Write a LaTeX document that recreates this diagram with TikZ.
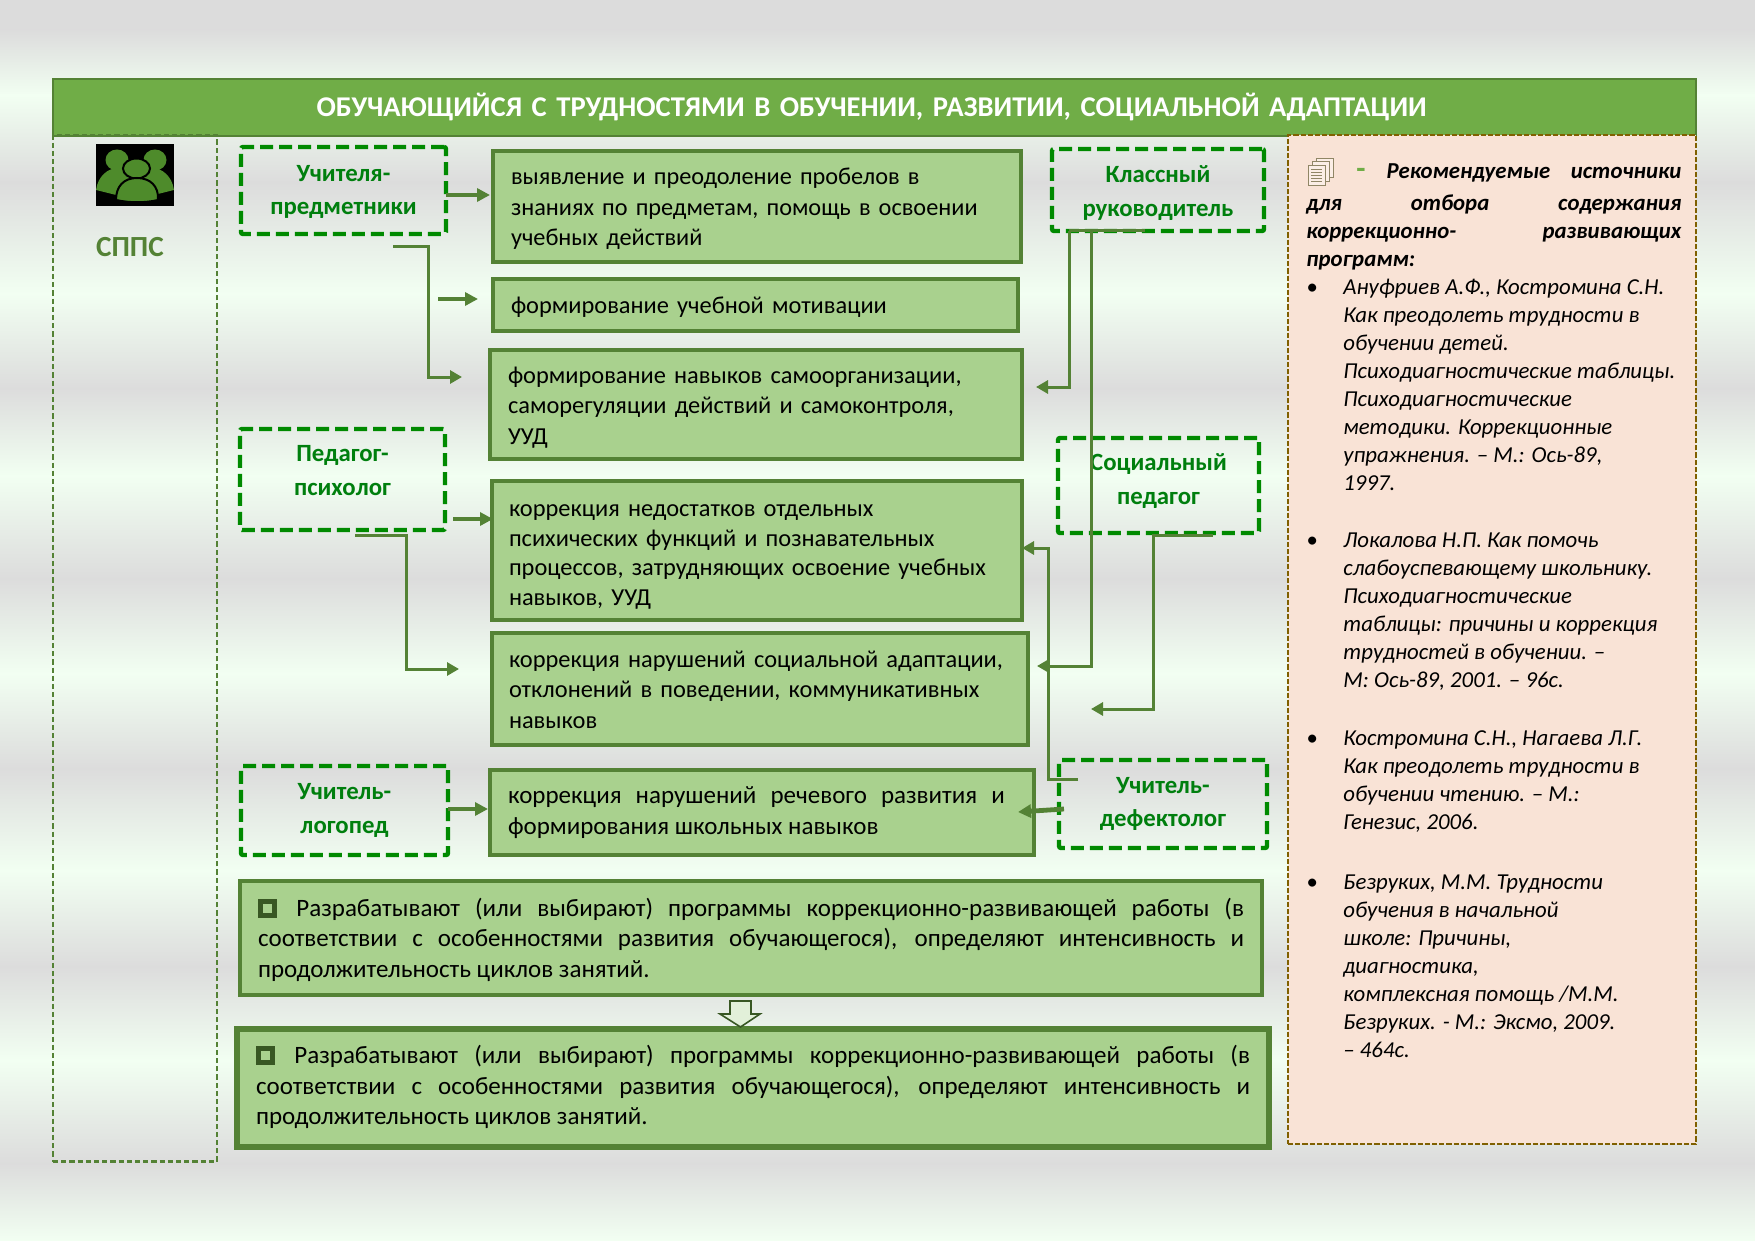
\documentclass[tikz,border=0pt]{standalone}
\usepackage{fontspec}
\setmainfont{Carlito}
\usetikzlibrary{arrows.meta,calc}
\definecolor{bgG}{HTML}{DCDCDC}
\definecolor{bgL}{HTML}{F2FFF2}
\definecolor{hdr}{HTML}{70AD47}
\definecolor{dk}{HTML}{548235}
\definecolor{iconc}{HTML}{4E8B2B}
\definecolor{fillg}{HTML}{A9D18E}
\definecolor{dgreen}{HTML}{008A00}
\definecolor{txtg}{HTML}{007F0E}
\definecolor{peach}{HTML}{F9E3D6}
\definecolor{brn}{HTML}{806000}
\definecolor{blockf}{HTML}{E2F0D9}
\definecolor{blockd}{HTML}{385723}
\newcommand{\sqbul}{{\setlength{\fboxsep}{0pt}\setlength{\fboxrule}{2.5pt}\raisebox{1.5pt}{\fcolorbox{blockd}{fillg}{\phantom{\rule{4.5pt}{4.5pt}}}}}}
\newcommand{\topx}[1]{\rule{0pt}{\dimexpr 9pt+#1\relax}}
\newcommand{\bxnode}[8]{% name,x0,y0,x1,y1,pad,style,text
  \pgfmathsetmacro{\bxw}{(#4-#2)*0.5}
  \pgfmathsetmacro{\bxh}{(#5-#3)*0.5}
  \pgfmathsetmacro{\bxt}{(#4-#2-2*#6)*0.5}
  \node[#7,minimum width=\bxw pt,minimum height=\bxh pt,text width=\bxt pt] (#1) at ({(#2+#4)/2},{(#3+#5)/2}) {#8};}
\newcommand{\bandseg}[4]{\shade[top color=#2,bottom color=#4] (0,#1) rectangle (1755,#3+1);}
\newcommand{\bibitemx}[1]{{\leftskip=18.5pt\noindent\llap{\makebox[18.5pt][l]{\textbullet}}#1\par}}
\tikzset{
  solidbox/.style={draw=dk,line width=2.1pt,fill=fillg,inner sep=0pt,outer sep=0pt,align=left,
    font=\fontsize{12.2}{15.2}\selectfont,text=black},
  justbox/.style={solidbox,align=justify,font=\fontsize{12.5}{15.4}\selectfont},
  dashbox/.style={draw=dgreen,line width=2.2pt,dash pattern=on 6.5pt off 3pt,rounded corners=1pt,
    inner sep=0pt,outer sep=0pt,align=center,text=txtg,font=\bfseries\fontsize{12.4}{16.8}\selectfont},
  arrthick/.style={draw=dk,line width=1.9pt,-{Triangle[length=6.5pt,width=6.5pt]}},
  arrthin/.style={draw=dk,line width=1.5pt,-{Triangle[length=6pt,width=6.5pt]}},
}
\begin{document}
\begin{tikzpicture}[x=0.5pt,y=-0.5pt]
\useasboundingbox (0,0) rectangle (1755,1241);
% background bands
\bandseg{0}{bgG}{30}{bgG}
\bandseg{30}{bgG}{95}{bgL}
\bandseg{95}{bgL}{182}{bgG}
\bandseg{182}{bgG}{293}{bgL}
\bandseg{293}{bgL}{388}{bgG}
\bandseg{388}{bgG}{475}{bgL}
\bandseg{475}{bgL}{578}{bgG}
\bandseg{578}{bgG}{673}{bgL}
\bandseg{673}{bgL}{768}{bgG}
\bandseg{768}{bgG}{870}{bgL}
\bandseg{870}{bgL}{966}{bgG}
\bandseg{966}{bgG}{1060}{bgL}
\bandseg{1060}{bgL}{1163}{bgG}
\bandseg{1163}{bgG}{1240}{bgL}

% title
\bxnode{title}{53}{79}{1696}{136}{0}{draw=dk,line width=0.9pt,fill=hdr,inner sep=0pt,outer sep=0pt,align=center,text=white,font=\bfseries\fontsize{14.3}{17}\selectfont}{ОБУЧАЮЩИЙСЯ С ТРУДНОСТЯМИ В ОБУЧЕНИИ, РАЗВИТИИ, СОЦИАЛЬНОЙ АДАПТАЦИИ\hspace*{2.8pt}}
% left column + panel
\node[draw=dk,line width=1.3pt,dash pattern=on 2.6pt off 1.5pt,inner sep=0pt,outer sep=0pt,
  minimum width=82pt,minimum height=513pt] (col) at (135,648.5) {};
\node[draw=brn,line width=0.9pt,dash pattern=on 2.6pt off 1pt,fill=peach,inner sep=0pt,outer sep=0pt,
  minimum width=204pt,minimum height=504.5pt] (src) at (1492,639.5) {};

% people icon
\fill[black] (96,144) rectangle (174,206);
\begin{scope}
\clip (96,144) rectangle (174,206);
\fill[iconc] (96,190) .. controls (98,176) and (108,168) .. (118,168) .. controls (130,168) and (136,180) .. (128,198) -- cycle;
\fill[iconc] (174,190) .. controls (172,176) and (162,168) .. (152,168) .. controls (140,168) and (134,180) .. (142,198) -- cycle;
\fill[iconc] (117,160) ellipse (11.5 and 10.5);
\fill[iconc] (155,160) ellipse (11.5 and 10.5);
\filldraw[fill=iconc,draw=black,line width=1pt] (136.5,168.5) ellipse (13.5 and 10);
\filldraw[fill=iconc,draw=black,line width=1pt] (116,200) .. controls (116,186) and (124,178) .. (137,178) .. controls (150,178) and (159,186) .. (158,200) .. controls (145,203) and (130,203) .. (116,200) -- cycle;
\end{scope}
\node[text=dk,font=\bfseries\fontsize{14.6}{17}\selectfont,inner sep=0pt] (sppc) at (130,247) {СППС};

% dashed role boxes
\bxnode{uch}{241}{147}{446}{234}{4}{dashbox}{\topx{0.6pt}Учителя-\\предметники}
\bxnode{psy}{240}{429}{445}{530}{4}{dashbox}{Педагог-\\психолог\par\vspace*{9pt}}
\bxnode{log}{241}{766}{448}{855}{4}{dashbox}{Учитель-\\логопед}
\bxnode{klr}{1052}{149}{1264}{231}{4}{dashbox}{\topx{2.7pt}Классный\\руководитель}
\bxnode{soc}{1058}{438}{1259}{533}{4}{dashbox}{Социальный\\педагог\par\vspace*{4.5pt}}
\bxnode{def}{1059}{760}{1267}{848}{4}{dashbox}{Учитель-\\дефектолог}

% solid boxes
\bxnode{b1}{493}{151}{1021}{262}{18}{solidbox,font=\fontsize{12.15}{15.2}\selectfont}{\topx{1.7pt}выявление и преодоление пробелов в\\знаниях по предметам, помощь в освоении\\учебных действий}
\bxnode{b2}{493}{279}{1018}{331}{18}{solidbox}{\topx{1.7pt}формирование учебной мотивации}
\bxnode{b3}{490}{350}{1022}{459}{18}{solidbox}{\topx{2.3pt}формирование навыков самоорганизации,\\саморегуляции действий и самоконтроля,\\УУД}
\bxnode{b4}{492}{481}{1022}{620}{17}{solidbox,font=\fontsize{12.2}{14.8}\selectfont}{\topx{3.3pt}коррекция недостатков отдельных\\психических функций и познавательных\\процессов, затрудняющих освоение учебных\\навыков, УУД}
\bxnode{b5}{492}{633}{1028}{745}{17}{solidbox}{\topx{0pt}коррекция нарушений социальной адаптации,\\отклонений в поведении, коммуникативных\\навыков}
\bxnode{b6}{490}{770}{1034}{855}{18}{justbox}{\parbox{248.4pt}{коррекция нарушений речевого развития и\linebreak формирования школьных навыков}}
\bxnode{b7}{240}{881}{1262}{995}{18}{justbox}{\topx{2pt}\sqbul\hspace{9.7pt}Разрабатывают (или выбирают) программы коррекционно-развивающей работы (в\linebreak соответствии с особенностями развития обучающегося), определяют интенсивность и\linebreak продолжительность циклов занятий.}
\bxnode{b8}{237}{1029}{1269}{1147}{19}{justbox,line width=3pt}{\sqbul\hspace{9.7pt}Разрабатывают (или выбирают) программы коррекционно-развивающей работы (в\linebreak соответствии с особенностями развития обучающегося), определяют интенсивность и\linebreak продолжительность циклов занятий.\par\vspace*{1pt}}

% block arrow between b7 and b8
\draw[draw=blockd,fill=blockf,line width=0.8pt,line join=miter] (730,1001) -- (751,1001) -- (751,1014) -- (760,1014) -- (740.5,1027) -- (720,1014) -- (730,1014) -- cycle;

% connector points
\coordinate (c1) at (0,195);
\coordinate (c2s) at (438,299);
\coordinate (c2t) at (478,299);
\coordinate (c3s) at (393,247);
\coordinate (c3t) at (462,377);
\coordinate (c4) at (0,519);
\coordinate (c4s) at (453,519);
\coordinate (c5s) at (355,535);
\coordinate (c5t) at (459,669);
\coordinate (c6) at (0,809);
\coordinate (k0) at (1145,231);
\coordinate (k1) at (1069,231);
\coordinate (k1t) at (1036,387);
\coordinate (k2) at (1091,231);
\coordinate (k2t) at (1037,666);
\coordinate (s0) at (1213,535);
\coordinate (s1) at (1153,535);
\coordinate (s1t) at (1091,709);
\coordinate (d0) at (1078,779);
\coordinate (d1) at (1048,779);
\coordinate (d1t) at (1022,548);
\coordinate (d2) at (1064,809);
\coordinate (d2t) at (1018,812);

\draw[arrthick] (uch.east |- c1) -- ($(b1.west |- c1)+(-3,0)$);
\draw[arrthick] (c2s) -- (c2t);
\draw[arrthin] (c3s) -- ++(35,0) |- (c3t);
\draw[arrthick] (c4s) -- ($(b4.west |- c4)+(1,0)$);
\draw[arrthin] (c5s) -- ++(51,0) |- (c5t);
\draw[arrthick] (log.east |- c6) -- ($(b6.west |- c6)+(-2,0)$);
\draw[draw=dk,line width=1.5pt] (k0) -- (k1);
\draw[arrthin] (k1) |- (k1t);
\draw[arrthin] (k2) |- (k2t);
\draw[arrthin] (s0) -- (s1) |- (s1t);
\draw[arrthin] (d0) -- (d1) |- (d1t);
\draw[arrthick,line width=2.4pt] (d2) -- (d2t);

% document icon
\begin{scope}[draw=black!45!brn!60,line width=0.5pt,fill=peach!60!white]
\filldraw (1316,159) rectangle (1333,178);
\filldraw (1312,162) rectangle (1329,182);
\filldraw (1308,166) rectangle (1325,186);
\foreach \yy in {170,173,176,179,182} \draw (1311,\yy) -- (1322,\yy);
\end{scope}

% sources text
\node[anchor=north west,inner sep=0pt,text width=187.5pt,align=justify,font=\itshape\fontsize{11.4}{14}\selectfont] (srctxt) at (1306,163.6) {%
{\bfseries\parfillskip=0pt\hspace*{25pt}{\color{hdr}\upshape\fontsize{15}{14}\selectfont -}\hspace{10.5pt}Рекомендуемые источники\par}
\vspace{1.7pt}
{\bfseries для отбора содержания\linebreak коррекционно- развивающих\linebreak программ:\par}
\bibitemx{Ануфриев А.Ф., Костромина С.Н.\\Как преодолеть трудности в\\обучении детей.\\Психодиагностические таблицы.\\Психодиагностические\\методики. Коррекционные\\упражнения. – М.: Ось-89,\\1997.}
\vspace{14.5pt}
\bibitemx{Локалова Н.П. Как помочь\\слабоуспевающему школьнику.\\Психодиагностические\\таблицы: причины и коррекция\\трудностей в обучении. –\\М: Ось-89, 2001. – 96с.}
\vspace{15pt}
\bibitemx{Костромина С.Н., Нагаева Л.Г.\\Как преодолеть трудности в\\обучении чтению. – М.:\\Генезис, 2006.}
\vspace{16.2pt}
\bibitemx{Безруких, М.М. Трудности\\обучения в начальной\\школе: Причины,\\диагностика,\\комплексная помощь /М.М.\\Безруких. - М.: Эксмо, 2009.\\– 464с.}
};
\end{tikzpicture}
\end{document}
